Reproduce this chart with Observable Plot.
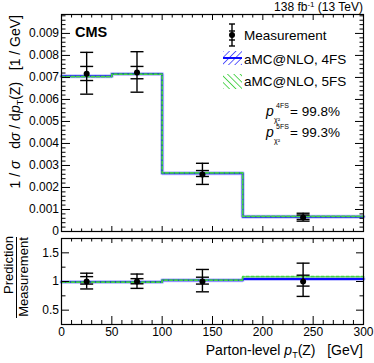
<!DOCTYPE html>
<html><head><meta charset="utf-8">
<script src="https://cdn.jsdelivr.net/npm/d3@7"></script>
<script src="https://cdn.jsdelivr.net/npm/@observablehq/plot@0.6"></script>
<style>body{margin:0;background:#fff} svg{display:block}</style>
</head><body><div id="chart"></div>
<script>
// ---- data ----
const binEdges   = [0, 50, 100, 180, 300];
const binCenters = [25, 75, 140, 240];
const measValue  = [0.00717, 0.00722, 0.00259, 0.00064];
const measTotLo  = [0.00624, 0.00633, 0.00214, 0.00047];
const measTotHi  = [0.00814, 0.00817, 0.00310, 0.00083];
const measStatLo = [0.00686, 0.00694, 0.00250, 0.00055];
const measStatHi = [0.00750, 0.00750, 0.00277, 0.00075];
const pred4FS    = [0.00705, 0.00716, 0.00265, 0.00067];
const pred5FS    = [0.00704, 0.00715, 0.00266, 0.00069];
const ratio4FS   = [0.99, 0.99, 1.02, 1.045];
const ratio5FS   = [0.99, 0.99, 1.025, 1.085];
const ratioMeas  = [1, 1, 1, 1];
const ratioTotLo = [0.87, 0.88, 0.82, 0.74];
const ratioTotHi = [1.145, 1.13, 1.21, 1.32];
const ratioStatLo= [0.955, 0.96, 0.955, 0.92];
const ratioStatHi= [1.085, 1.05, 1.075, 1.11];
const yTicksUpper = [0, 0.001, 0.002, 0.003, 0.004, 0.005, 0.006, 0.007, 0.008, 0.009];
const yTicksLower = [0.5, 1, 1.5];
const xTicks = [0, 50, 100, 150, 200, 250, 300];
const legendLabels = ["Measurement", "aMC@NLO, 4FS", "aMC@NLO, 5FS"];
const pValues = ["99.8%", "99.3%"];

const FONT = "'Liberation Sans', Arial, Helvetica, sans-serif";
const BLUE = "#0a0aff", BAND = "#9a9aff", GREEN = "#44d444";

const steps = vals => binEdges.map((x, i) => ({x, y: vals[Math.min(i, vals.length - 1)]}));
const rows = (v, lo, hi, slo, shi) => binCenters.map((x, i) => ({x, v: v[i], lo: lo[i], hi: hi[i], slo: slo[i], shi: shi[i]}));
const capsOf = rs => rs.flatMap(d => [d.lo, d.hi, d.slo, d.shi].map(y => ({x: d.x, y})));
const capSymbol = {draw(ctx, size) { const r = Math.sqrt(size / Math.PI); ctx.moveTo(-r, 0); ctx.lineTo(r, 0); }};

const measU = rows(measValue, measTotLo, measTotHi, measStatLo, measStatHi);
const measL = rows(ratioMeas, ratioTotLo, ratioTotHi, ratioStatLo, ratioStatHi);

const xMinor = d3.range(0, 31).map(i => i * 10).filter(v => v % 50 !== 0);
const yMinorUpper = d3.range(0, 50).filter(i => i % 5 !== 0).map(i => i * 0.0002);
const yMinorLower = [0.25, 0.75, 1.25, 1.75];
const blank = () => "";

function tickAxes(majorX, minorX, xMaj, xMin, xMajTop, xMinTop, majorY, minorY, yMaj, yMin) {
  return [
    Plot.axisX(majorX, {anchor: "bottom", tickSize: -xMaj, tickFormat: blank, label: null}),
    Plot.axisX(minorX, {anchor: "bottom", tickSize: -xMin, tickFormat: blank, label: null}),
    Plot.axisX(majorX, {anchor: "top", tickSize: -xMajTop, tickFormat: blank, label: null}),
    Plot.axisX(minorX, {anchor: "top", tickSize: -xMinTop, tickFormat: blank, label: null}),
    Plot.axisY(majorY, {anchor: "left", tickSize: -yMaj, tickFormat: blank, label: null}),
    Plot.axisY(minorY, {anchor: "left", tickSize: -yMin, tickFormat: blank, label: null}),
    Plot.axisY(majorY, {anchor: "right", tickSize: -yMaj, tickFormat: blank, label: null}),
    Plot.axisY(minorY, {anchor: "right", tickSize: -yMin, tickFormat: blank, label: null})
  ];
}

function errMarks(rs) {
  return [
    Plot.ruleX(rs, {x: "x", y1: "lo", y2: "hi", stroke: "black", strokeWidth: 1.4}),
    Plot.dot(capsOf(rs), {x: "x", y: "y", symbol: capSymbol, r: 6.5, fill: "none", stroke: "black", strokeWidth: 1.4}),
    Plot.dot(rs, {x: "x", y: "v", r: 3, fill: "black", stroke: "none"})
  ];
}

function lineMarks(v4, v5) {
  return [
    Plot.line(steps(v4), {x: "x", y: "y", curve: "step-after", stroke: BAND, strokeWidth: 4, strokeOpacity: 0.6}),
    Plot.line(steps(v4), {x: "x", y: "y", curve: "step-after", stroke: BLUE, strokeWidth: 2}),
    Plot.line(steps(v5), {x: "x", y: "y", curve: "step-after", stroke: GREEN, strokeWidth: 1.8, strokeDasharray: "3,2"})
  ];
}

// ---- upper panel decorations ----
const upperDeco = (index, scales, values, dims) => {
  const g = d3.create("svg:g").attr("font-family", FONT).attr("fill", "black").attr("text-anchor", "start");
  const defs = g.append("defs");
  const mk = (id, color, rot) => {
    const p = defs.append("pattern").attr("id", id).attr("patternUnits", "userSpaceOnUse")
      .attr("width", 4.5).attr("height", 4.5).attr("patternTransform", `rotate(${rot})`);
    p.append("line").attr("x1", 0).attr("y1", 0).attr("x2", 0).attr("y2", 4.5).attr("stroke", color).attr("stroke-width", 1.6);
  };
  mk("h4", "#3b3bff", 45); mk("h5", "#33cc33", -45);
  // header
  const h = g.append("text").attr("x", 363).attr("y", 11).attr("text-anchor", "end").attr("font-size", 12);
  h.append("tspan").text("138 fb");
  h.append("tspan").attr("dy", -4).attr("font-size", 8).text("-1");
  h.append("tspan").attr("dy", 4).text(" (13 TeV)");
  // CMS
  g.append("text").attr("x", 75).attr("y", 37).attr("font-size", 14.5).attr("font-weight", "bold").text("CMS");
  // legend: measurement
  const lx = 232;
  g.append("line").attr("x1", lx).attr("x2", lx).attr("y1", 24).attr("y2", 46).attr("stroke", "black").attr("stroke-width", 1.4);
  [24, 31, 40, 46].forEach(y => g.append("line").attr("x1", lx - 3).attr("x2", lx + 3).attr("y1", y).attr("y2", y).attr("stroke", "black").attr("stroke-width", 1.4));
  g.append("circle").attr("cx", lx).attr("cy", 35).attr("r", 3).attr("fill", "black");
  g.append("text").attr("x", 244).attr("y", 40).attr("font-size", 13.5).text(legendLabels[0]);
  // 4FS
  g.append("rect").attr("x", 223).attr("y", 51).attr("width", 19).attr("height", 14).attr("fill", "url(#h4)");
  g.append("line").attr("x1", 223).attr("x2", 242).attr("y1", 58).attr("y2", 58).attr("stroke", BLUE).attr("stroke-width", 2);
  g.append("text").attr("x", 244).attr("y", 64).attr("font-size", 13.5).text(legendLabels[1]);
  // 5FS
  g.append("rect").attr("x", 223).attr("y", 74).attr("width", 19).attr("height", 15).attr("fill", "url(#h5)");
  g.append("text").attr("x", 244).attr("y", 86).attr("font-size", 13.5).text(legendLabels[2]);
  // p-values
  [["4FS", pValues[0], 116], ["5FS", pValues[1], 137]].forEach(([tag, val, by]) => {
    g.append("text").attr("x", 266).attr("y", by).attr("font-size", 14).attr("font-style", "italic").text("p");
    g.append("text").attr("x", 276).attr("y", by - 8.5).attr("font-size", 7).text(tag);
    g.append("text").attr("x", 274).attr("y", by + 5.5).attr("font-size", 7).text("χ²");
    g.append("text").attr("x", 290).attr("y", by).attr("font-size", 13.5).text("= " + val);
  });
  // y title
  const t = g.append("text").attr("transform", "translate(20,15) rotate(-90)").attr("text-anchor", "end")
    .attr("font-size", 14).style("white-space", "pre");
  t.append("tspan").text("1 / ");
  t.append("tspan").attr("font-style", "italic").text("σ");
  t.append("tspan").text("   d");
  t.append("tspan").attr("font-style", "italic").text("σ");
  t.append("tspan").text(" / d");
  t.append("tspan").attr("font-style", "italic").text("p");
  t.append("tspan").attr("font-size", 9).attr("dy", 3).text("T");
  t.append("tspan").attr("dy", -3).text("(Z)   [1 / GeV]");
  return g.node();
};

const lowerDeco = (index, scales, values, dims) => {
  const g = d3.create("svg:g").attr("font-family", FONT).attr("fill", "black").attr("text-anchor", "start");
  g.append("text").attr("transform", "translate(13,29) rotate(-90)").attr("text-anchor", "middle").attr("font-size", 13).text("Prediction");
  g.append("line").attr("x1", 16.5).attr("x2", 16.5).attr("y1", 1).attr("y2", 82).attr("stroke", "black").attr("stroke-width", 1);
  g.append("text").attr("transform", "translate(28,41) rotate(-90)").attr("text-anchor", "middle").attr("font-size", 13).text("Measurement");
  const t = g.append("text").attr("x", 363).attr("y", 119).attr("text-anchor", "end").attr("font-size", 14).style("white-space", "pre");
  t.append("tspan").text("Parton-level ");
  t.append("tspan").attr("font-style", "italic").text("p");
  t.append("tspan").attr("font-size", 9).attr("dy", 3).text("T");
  t.append("tspan").attr("dy", -3).text("(Z)   [GeV]");
  return g.node();
};

const common = {width: 374, marginLeft: 61, marginRight: 11,
  style: {fontFamily: FONT, fontSize: "12px", color: "black", background: "white", overflow: "visible"}};

const upper = Plot.plot({
  ...common, height: 236, marginTop: 14, marginBottom: 5,
  x: {domain: [0, 300], label: null},
  y: {domain: [0, 0.00986], label: null},
  marks: [
    ...lineMarks(pred4FS, pred5FS),
    ...errMarks(measU),
    Plot.axisY(yTicksUpper, {anchor: "left", tickSize: 0, tickPadding: 2.5, fontSize: 12,
      tickFormat: d => d === 0 ? "0" : d3.format(".3f")(d), label: null}),
    ...tickAxes(xTicks, xMinor, 5, 2.5, 5, 2.5, yTicksUpper, yMinorUpper, 9, 4.5),
    Plot.frame({stroke: "black", strokeWidth: 1.2}),
    upperDeco
  ]
});

const lower = Plot.plot({
  ...common, height: 127, marginTop: 2, marginBottom: 39,
  x: {domain: [0, 300], label: null},
  y: {domain: [0.25, 1.75], label: null},
  marks: [
    ...lineMarks(ratio4FS, ratio5FS),
    ...errMarks(measL),
    Plot.axisY(yTicksLower, {anchor: "left", tickSize: 0, tickPadding: 2.5, fontSize: 12, tickFormat: d => String(d), label: null}),
    Plot.axisX(xTicks, {anchor: "bottom", tickSize: 0, tickPadding: 3, fontSize: 12, tickFormat: d => String(d), label: null}),
    ...tickAxes(xTicks, xMinor, 8, 4, 4, 2.5, yTicksLower, yMinorLower, 8, 4.5),
    Plot.frame({stroke: "black", strokeWidth: 1.2}),
    lowerDeco
  ]
});

document.getElementById("chart").append(upper, lower);
</script>
</body></html>
